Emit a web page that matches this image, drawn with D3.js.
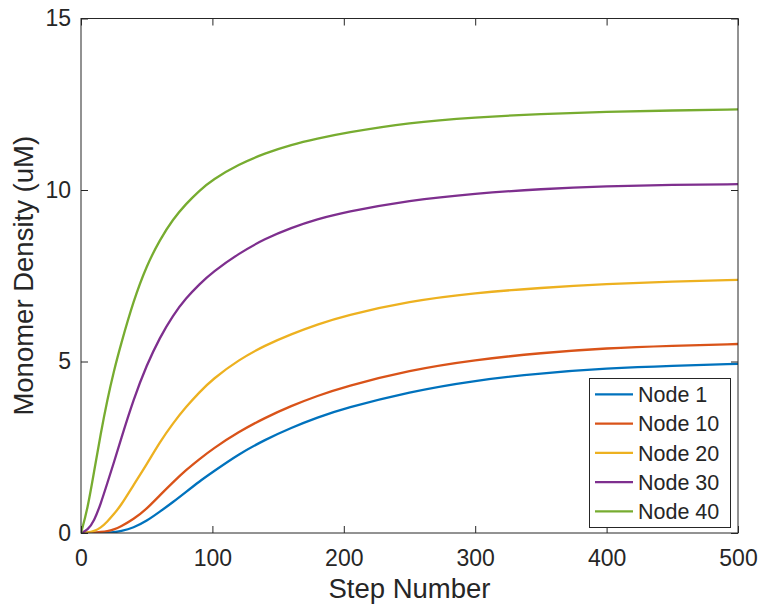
<!DOCTYPE html>
<html>
<head>
<meta charset="utf-8">
<script src="https://cdn.jsdelivr.net/npm/d3@7"></script>
<style>
  body { margin: 0; background: #fff; }
  text { font-family: "Liberation Sans", Arial, Helvetica, sans-serif; fill: #262626; }
</style>
</head>
<body>
<svg id="chart" width="761" height="607"></svg>
<script>
var steps = [0, 5, 10, 15, 20, 25, 30, 40, 50, 60, 70, 80, 90, 100, 120, 140, 160, 180, 200, 250, 300, 350, 400, 450, 500];

var node1 = [0, 0, 0, 0, 0.01, 0.02, 0.05, 0.15, 0.35, 0.62, 0.9, 1.2, 1.5, 1.77, 2.3, 2.72, 3.07, 3.37, 3.63, 4.12, 4.45, 4.66, 4.8, 4.88, 4.93];
var node10 = [0, 0, 0.01, 0.03, 0.05, 0.1, 0.18, 0.4, 0.7, 1.1, 1.48, 1.84, 2.15, 2.45, 2.95, 3.36, 3.71, 4.0, 4.26, 4.75, 5.05, 5.25, 5.39, 5.46, 5.51];
var node20 = [0, 0.01, 0.05, 0.15, 0.33, 0.55, 0.78, 1.4, 2.0, 2.65, 3.2, 3.68, 4.1, 4.48, 5.05, 5.47, 5.8, 6.08, 6.33, 6.76, 7.0, 7.15, 7.26, 7.33, 7.38];
var node30 = [0, 0.08, 0.35, 0.85, 1.45, 2.05, 2.68, 3.9, 4.9, 5.7, 6.35, 6.85, 7.25, 7.6, 8.15, 8.58, 8.9, 9.15, 9.35, 9.7, 9.9, 10.03, 10.11, 10.15, 10.17];
var node40 = [0, 0.7, 1.8, 2.9, 3.88, 4.72, 5.45, 6.78, 7.8, 8.55, 9.15, 9.6, 9.98, 10.3, 10.75, 11.07, 11.32, 11.5, 11.66, 11.97, 12.12, 12.22, 12.28, 12.32, 12.35];

var seriesNames = ['Node 1', 'Node 10', 'Node 20', 'Node 30', 'Node 40'];
var seriesColors = ['#0072BD', '#D95319', '#EDB120', '#7E2F8E', '#77AC30'];
var xTicks = [0, 100, 200, 300, 400, 500];
var yTicks = [0, 5, 10, 15];

var margin = { left: 81, right: 738, top: 18.5, bottom: 533 };

var svg = d3.select('#chart');

var x = d3.scaleLinear().domain([0, 500]).range([margin.left, margin.right]);
var y = d3.scaleLinear().domain([0, 15]).range([margin.bottom, margin.top]);

var series = [node1, node10, node20, node30, node40].map(function (vals, i) {
  return {
    name: seriesNames[i],
    color: seriesColors[i],
    points: steps.map(function (s, j) { return [s, vals[j]]; })
  };
});

svg.append('defs').append('clipPath').attr('id', 'plotClip')
  .append('rect')
  .attr('x', margin.left).attr('y', margin.top)
  .attr('width', margin.right - margin.left)
  .attr('height', margin.bottom - margin.top);

var line = d3.line()
  .x(function (d) { return x(d[0]); })
  .y(function (d) { return y(d[1]); })
  .curve(d3.curveBasis);

svg.append('g').attr('clip-path', 'url(#plotClip)')
  .selectAll('path')
  .data(series)
  .enter().append('path')
  .attr('d', function (d) { return line(d.points); })
  .attr('fill', 'none')
  .attr('stroke', function (d) { return d.color; })
  .attr('stroke-width', 2.3);

// axes: bottom/left with labels, top/right mirrored ticks only
var tickLen = 7;
var axisColor = '#262626';

function styleAxis(g) {
  g.select('.domain').remove();
  g.selectAll('.tick line').attr('stroke', axisColor).attr('stroke-width', 1);
  g.selectAll('.tick text')
    .style('font-size', '23px')
    .attr('fill', axisColor);
}

svg.append('g')
  .attr('transform', 'translate(0,' + margin.bottom + ')')
  .call(d3.axisBottom(x).tickValues(xTicks).tickSizeInner(-tickLen).tickSizeOuter(0).tickPadding(17).tickFormat(d3.format('d')))
  .call(styleAxis);

svg.append('g')
  .attr('transform', 'translate(0,' + margin.top + ')')
  .call(d3.axisTop(x).tickValues(xTicks).tickSizeInner(-tickLen).tickSizeOuter(0).tickFormat(''))
  .call(styleAxis);

svg.append('g')
  .attr('transform', 'translate(' + margin.left + ',0)')
  .call(d3.axisLeft(y).tickValues(yTicks).tickSizeInner(-tickLen).tickSizeOuter(0).tickPadding(10).tickFormat(d3.format('d')))
  .call(styleAxis);

svg.append('g')
  .attr('transform', 'translate(' + margin.right + ',0)')
  .call(d3.axisRight(y).tickValues(yTicks).tickSizeInner(-tickLen).tickSizeOuter(0).tickFormat(''))
  .call(styleAxis);

svg.append('rect')
  .attr('x', margin.left).attr('y', margin.top)
  .attr('width', margin.right - margin.left)
  .attr('height', margin.bottom - margin.top)
  .attr('fill', 'none')
  .attr('stroke', axisColor)
  .attr('stroke-width', 1);

svg.append('text')
  .attr('x', (margin.left + margin.right) / 2)
  .attr('y', 598)
  .attr('text-anchor', 'middle')
  .style('font-size', '27.5px')
  .text('Step Number');

svg.append('text')
  .attr('transform', 'translate(33,' + (margin.top + margin.bottom) / 2 + ')rotate(-90)')
  .attr('text-anchor', 'middle')
  .style('font-size', '27.5px')
  .text('Monomer Density (uM)');

// legend
var legend = svg.append('g');
legend.append('rect')
  .attr('x', 589.5).attr('y', 378.5)
  .attr('width', 141).attr('height', 149)
  .attr('fill', '#fff')
  .attr('stroke', axisColor)
  .attr('stroke-width', 1);

var rowY = d3.scalePoint().domain(seriesNames).range([394.3, 511.3]);

var rows = legend.selectAll('g.row')
  .data(series)
  .enter().append('g')
  .attr('class', 'row')
  .attr('transform', function (d) { return 'translate(0,' + rowY(d.name) + ')'; });

rows.append('line')
  .attr('x1', 595).attr('x2', 633)
  .attr('stroke', function (d) { return d.color; })
  .attr('stroke-width', 2.3);

rows.append('text')
  .attr('x', 638)
  .attr('dy', '0.36em')
  .style('font-size', '21.5px')
  .attr('fill', '#000')
  .text(function (d) { return d.name; });
</script>
</body>
</html>
